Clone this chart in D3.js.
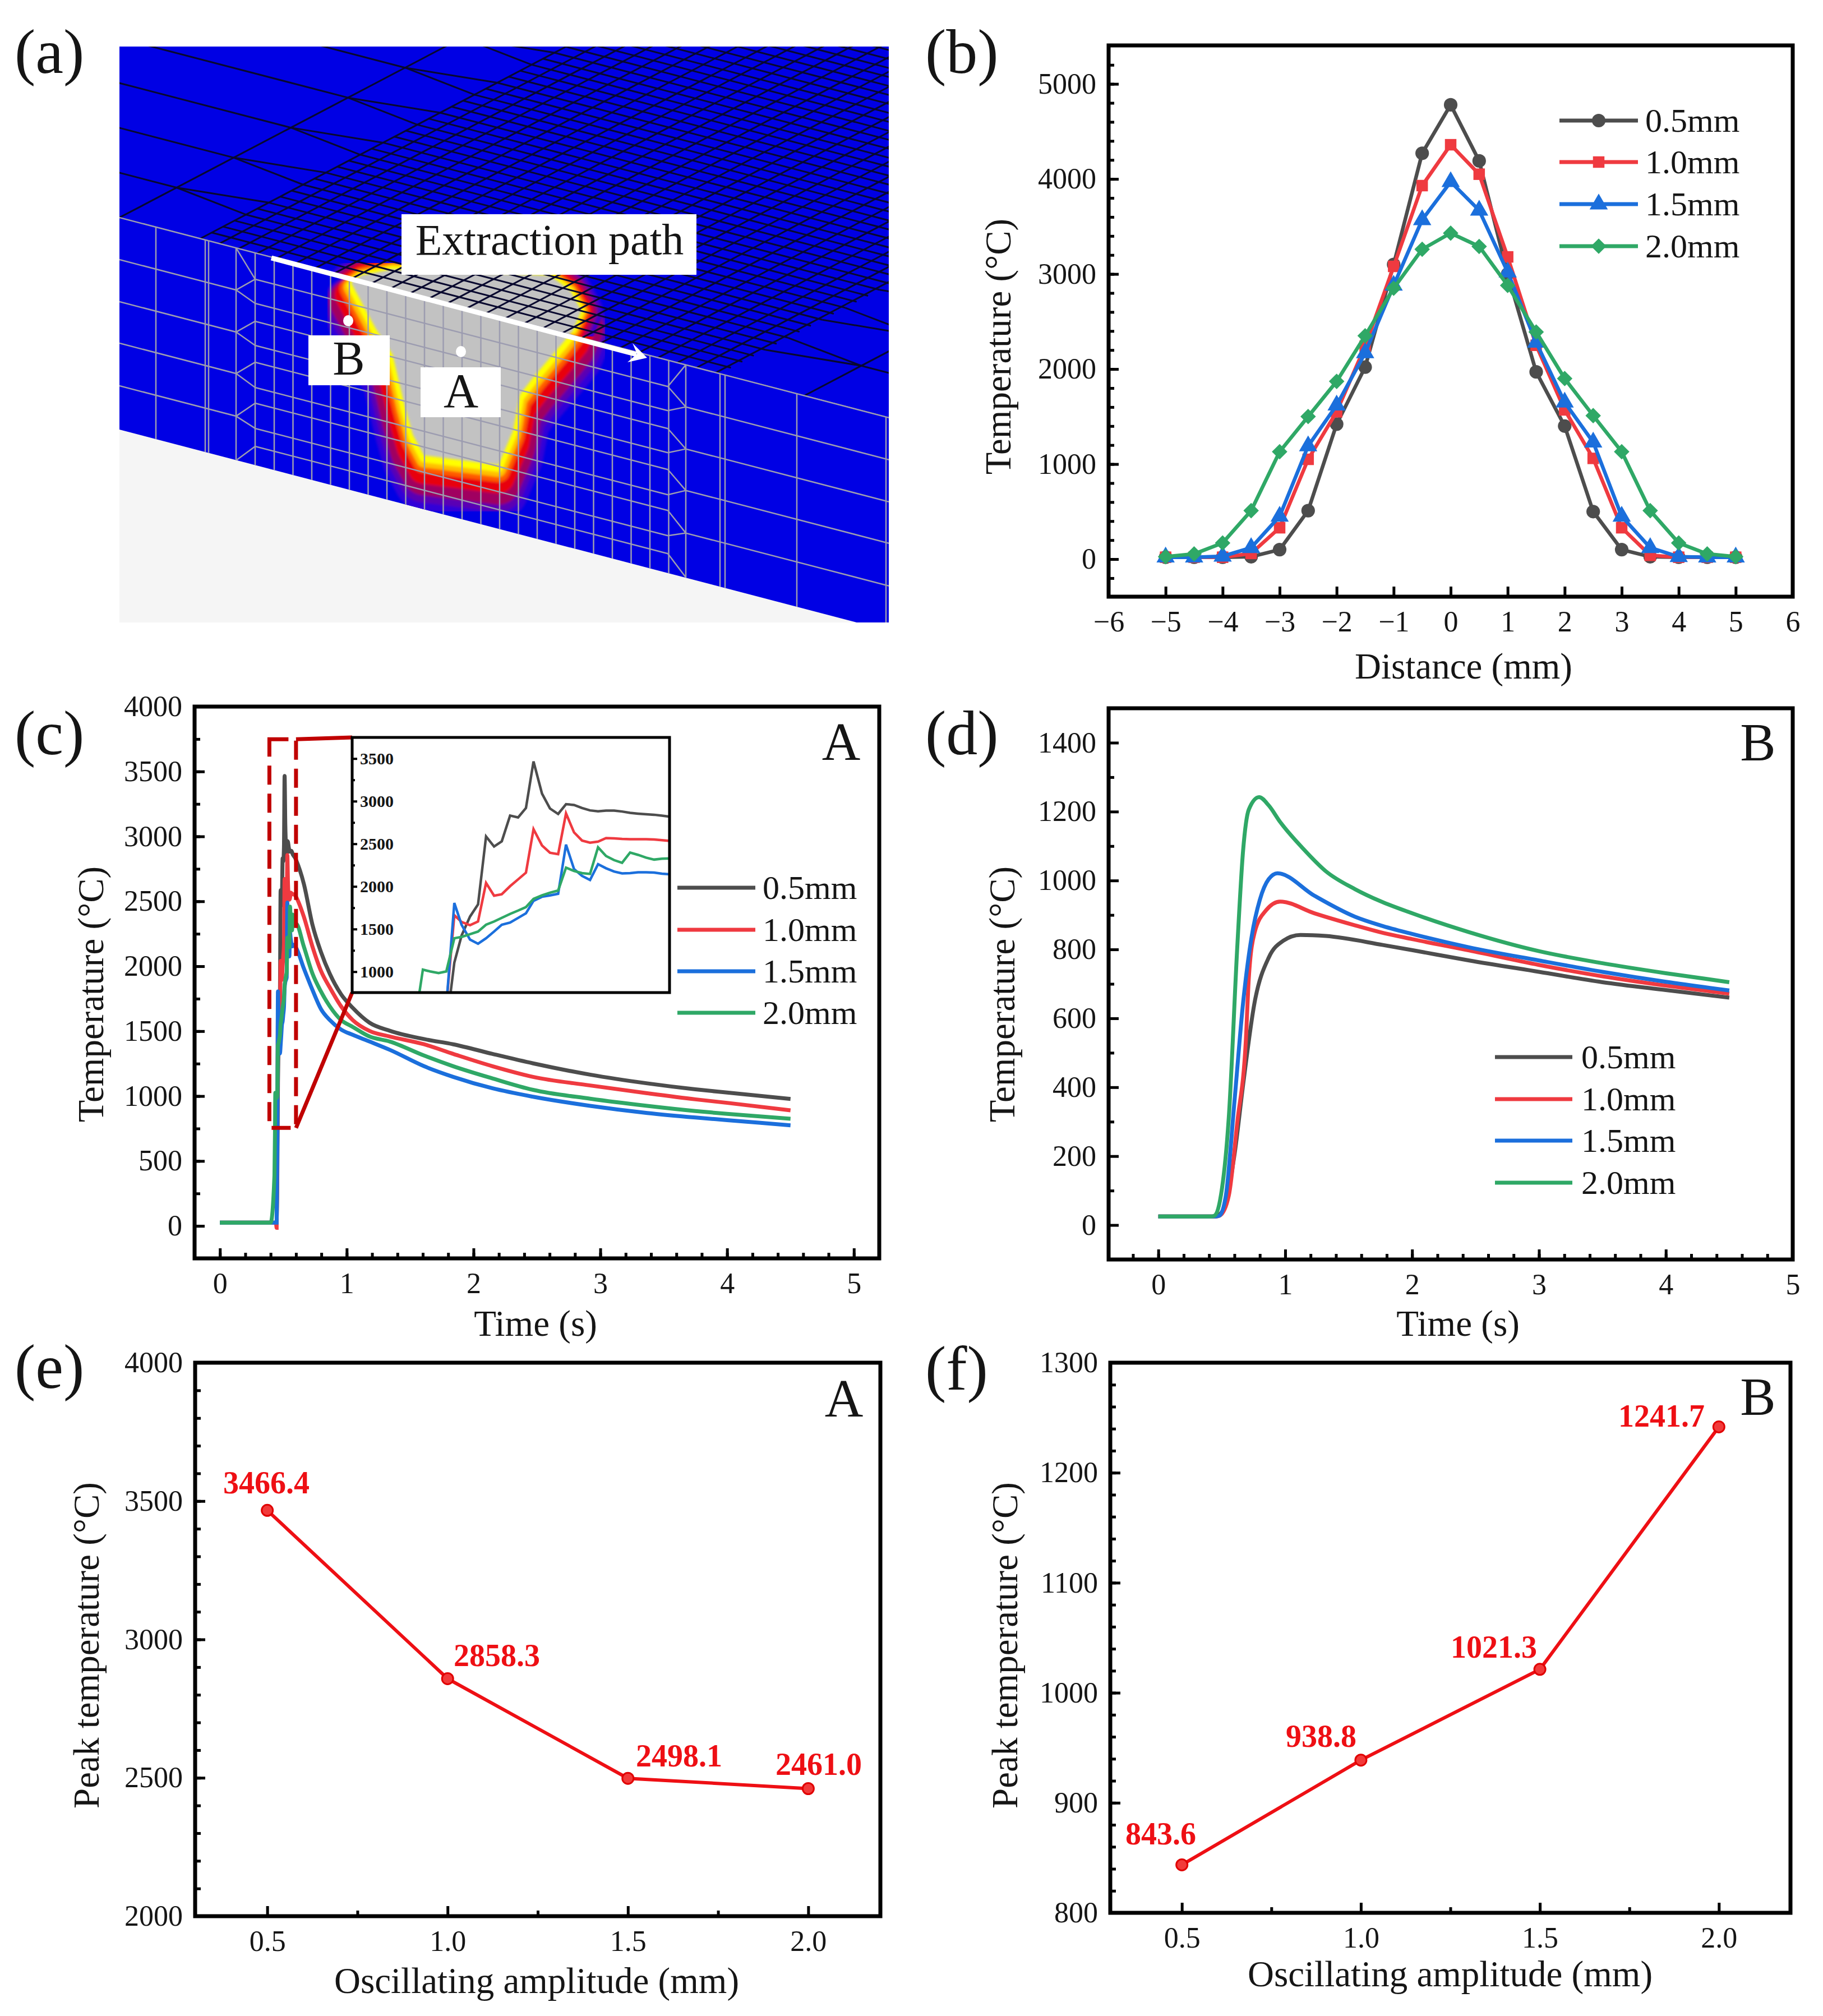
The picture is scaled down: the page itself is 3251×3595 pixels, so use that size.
<!DOCTYPE html>
<html>
<head>
<meta charset="utf-8">
<script src="https://cdn.jsdelivr.net/npm/d3@7/dist/d3.min.js"></script>
<style>
  body { margin: 0; background: #fff; }
  text { font-family: "Liberation Serif", serif; fill: #151515; }
</style>
</head>
<body>
<svg id="fig" width="3251" height="3595"></svg>
<script>
// series names and colours, shared by panels b, c, d
var seriesNames = ['0.5mm', '1.0mm', '1.5mm', '2.0mm'];
var seriesColors = ['#4d4d4d', '#ef3a40', '#1b6fdc', '#2fa866'];

// (b) temperature along the extraction path
var bDistance = [-5, -4.5, -4, -3.5, -3, -2.5, -2, -1.5, -1, -0.5, 0, 0.5, 1, 1.5, 2, 2.5, 3, 3.5, 4, 4.5, 5];
var b05 = [20, 20, 20, 25, 100, 510, 1420, 2020, 3100, 4270, 4780, 4190, 3000, 1970, 1400, 500, 100, 25, 20, 20, 20];
var b10 = [20, 20, 20, 60, 330, 1050, 1550, 2240, 3080, 3930, 4360, 4050, 3180, 2250, 1570, 1060, 330, 40, 20, 20, 20];
var b15 = [20, 20, 30, 120, 450, 1190, 1620, 2170, 2880, 3570, 3970, 3670, 3020, 2280, 1650, 1230, 450, 120, 25, 20, 20];
var b20 = [25, 55, 170, 510, 1130, 1500, 1870, 2350, 2850, 3260, 3430, 3290, 2880, 2390, 1900, 1510, 1130, 510, 170, 55, 25];

// (c) thermal cycle at point A
var cTime = [0, 0.2, 0.4, 0.43, 0.4345, 0.4368, 0.4415, 0.4472, 0.4523, 0.4576, 0.4624, 0.468, 0.4733, 0.4786, 0.4839, 0.489, 0.4945, 0.4998, 0.505, 0.51, 0.5156, 0.5209, 0.5263, 0.5315, 0.5368, 0.5421, 0.5474, 0.5527, 0.558, 0.5633, 0.5686, 0.5739, 0.5792, 0.5845, 0.5898, 0.595, 0.6, 0.662, 0.73, 0.797, 0.866, 0.955, 1.047, 1.18, 1.34, 1.61, 1.84, 2.15, 2.47, 2.92, 3.37, 3.75, 4, 4.5];
var c05 = [25, 25, 25, 25, 25, 25, 25, 30, 350, 1105, 1424, 1647, 1790, 2586, 2468, 2529, 2831, 2809, 2920, 3466, 3089, 2914, 2850, 2965, 2956, 2920, 2892, 2882, 2889, 2889, 2879, 2863, 2854, 2847, 2841, 2830, 2819, 2634, 2318, 2109, 1943, 1785, 1680, 1565, 1503, 1439, 1399, 1325, 1252, 1165, 1098, 1052, 1027, 978];
var c10 = [25, 25, 25, 25, 25, 25, 25, -15, 600, 1662, 1583, 1545, 1589, 2041, 1892, 1908, 2003, 2083, 2162, 2672, 2481, 2395, 2379, 2857, 2634, 2538, 2513, 2526, 2567, 2564, 2557, 2554, 2554, 2554, 2551, 2543, 2535, 2381, 2150, 1964, 1837, 1692, 1586, 1502, 1459, 1399, 1325, 1230, 1148, 1082, 1022, 975, 948, 890];
var c15 = [25, 25, 25, 25, 25, 25, 25, 25, 600, 1806, 1551, 1376, 1328, 1392, 1471, 1551, 1576, 1631, 1685, 1831, 1879, 1895, 1914, 2491, 2204, 2124, 2076, 2261, 2213, 2175, 2153, 2156, 2166, 2166, 2162, 2150, 2143, 1983, 1817, 1670, 1586, 1513, 1472, 1420, 1356, 1230, 1148, 1060, 995, 925, 870, 835, 815, 775];
var c20 = [25, 25, 25, 390, 755, 1025, 1003, 984, 1003, 1392, 1408, 1440, 1471, 1551, 1589, 1631, 1678, 1717, 1758, 1854, 1895, 1927, 1952, 2220, 2182, 2156, 2147, 2459, 2357, 2309, 2277, 2398, 2370, 2338, 2315, 2325, 2328, 2151, 1943, 1805, 1692, 1586, 1533, 1459, 1420, 1312, 1230, 1136, 1048, 980, 925, 885, 863, 825];

// (d) thermal cycle at point B
var d05Time = [0, 0.45, 0.51, 0.6, 0.668, 0.758, 0.871, 0.984, 1.12, 1.32, 1.77, 2, 2.45, 3, 3.5, 4, 4.5];
var d05 = [25, 25, 43, 204, 407, 645, 777, 825, 842, 839, 813, 798, 768, 735, 705, 682, 660];
var d10Time = [0, 0.46, 0.487, 0.555, 0.623, 0.69, 0.713, 0.758, 0.85, 0.96, 1.23, 1.55, 1.75, 2, 2.45, 3, 3.5, 4, 4.5];
var d10 = [25, 25, 28, 85, 300, 538, 717, 848, 914, 939, 905, 870, 850, 830, 797, 755, 722, 695, 672];
var d15Time = [0, 0.45, 0.48, 0.532, 0.6, 0.668, 0.735, 0.8, 0.87, 0.94, 1.23, 1.55, 1.75, 2, 2.45, 3, 3.5, 4, 4.5];
var d15 = [25, 25, 27, 85, 359, 645, 836, 944, 1004, 1021, 956, 895, 870, 845, 806, 768, 735, 706, 681];
var d20Time = [0, 0.42, 0.442, 0.487, 0.555, 0.623, 0.668, 0.713, 0.794, 0.87, 0.96, 1.14, 1.32, 1.55, 1.75, 2, 2.45, 3, 3.5, 4, 4.5];
var d20 = [25, 25, 27, 73, 311, 813, 1087, 1206, 1242, 1218, 1170, 1093, 1027, 975, 940, 905, 850, 795, 760, 731, 705];

// (e) (f) peak temperature
var amplitude = [0.5, 1.0, 1.5, 2.0];
var peakA = [3466.4, 2858.3, 2498.1, 2461.0];
var peakB = [843.6, 938.8, 1021.3, 1241.7];

var svg = d3.select('#fig');

function range2(a, b, s) { return d3.range(a, b + s / 2, s).map(function(d) { return +d.toFixed(3); }); }

// frame, major and minor ticks, returns the scales
function makePanel(c) {
  var x = d3.scaleLinear().domain(c.xd).range([c.l, c.r]);
  var y = d3.scaleLinear().domain(c.yd).range([c.b, c.t]);
  var g = svg.append('g');

  var under = g.append('g').attr('class', 'marks');

  g.append('g').attr('transform', 'translate(0,' + c.b + ')')
    .call(d3.axisBottom(x).tickValues(c.xMinor).tickSize(-10).tickFormat(''));
  g.append('g').attr('transform', 'translate(' + c.l + ',0)')
    .call(d3.axisLeft(y).tickValues(c.yMinor).tickSize(-10).tickFormat(''));
  g.append('g').attr('transform', 'translate(0,' + c.b + ')')
    .call(d3.axisBottom(x).tickValues(c.xMajor).tickSizeInner(-18).tickSizeOuter(0).tickPadding(c.xPad || 25).tickFormat(c.xFmt || d3.format('d')));
  g.append('g').attr('transform', 'translate(' + c.l + ',0)')
    .call(d3.axisLeft(y).tickValues(c.yMajor).tickSizeInner(-18).tickSizeOuter(0).tickPadding(22).tickFormat(d3.format('d')));

  g.selectAll('.domain').remove();
  g.selectAll('.tick line').attr('stroke', '#000').attr('stroke-width', 5);
  g.selectAll('.tick text').attr('font-size', 52).attr('font-family', '"Liberation Serif", serif').attr('fill', '#151515');

  g.append('rect').attr('x', c.l).attr('y', c.t).attr('width', c.r - c.l).attr('height', c.b - c.t)
    .attr('fill', 'none').attr('stroke', '#000').attr('stroke-width', 7);

  g.append('text').attr('x', c.xTitleX).attr('y', c.xTitleY).attr('text-anchor', 'middle').attr('font-size', 65).text(c.xTitle);
  g.append('text').attr('transform', 'translate(' + c.yTitleX + ',' + c.yTitleY + ') rotate(-90)')
    .attr('text-anchor', 'middle').attr('dy', '0.33em').attr('font-size', 65).text(c.yTitle);

  return { x: x, y: y, g: under, top: g };
}

function panelLabel(t, x, y) {
  svg.append('text').attr('x', x).attr('y', y).attr('font-size', 112).text(t);
}

function pointLabel(t, x, y) {
  svg.append('text').attr('x', x).attr('y', y).attr('font-size', 95).attr('text-anchor', 'middle').text(t);
}

function legend(names, lx0, lx1, ys, tx) {
  names.forEach(function(n, i) {
    svg.append('line').attr('x1', lx0).attr('x2', lx1).attr('y1', ys[i]).attr('y2', ys[i])
      .attr('stroke', seriesColors[i]).attr('stroke-width', 7);
    svg.append('text').attr('x', tx).attr('y', ys[i]).attr('dy', '0.33em').attr('font-size', 60).text(n);
  });
}

/* ---------- (a) mesh picture ---------- */
function drawMesh() {
  var g = svg.append('g');
  var defs = svg.append('defs');
  var edge = function(x) { return 388 + (x - 213) * 0.26; };
  var pa = function(u, v) { return [213 + 1372 * u + 566 * v, 388 + 357 * u - 297 * v]; };

  defs.append('clipPath').attr('id', 'aRect').append('rect').attr('x', 213).attr('y', 83).attr('width', 1372).attr('height', 1027);
  defs.append('clipPath').attr('id', 'aTop').append('polygon').attr('points', '213,83 1585,83 1585,745 213,388');
  defs.append('clipPath').attr('id', 'aFront').append('polygon').attr('points', '213,386 1585,743 1585,1125 213,766');
  defs.append('clipPath').attr('id', 'aSurf').append('polygon').attr('points', '213,83 1585,83 1585,1125 213,766');
  defs.append('filter').attr('id', 'soft').append('feGaussianBlur').attr('stdDeviation', 2);

  var a = g.append('g').attr('clip-path', 'url(#aRect)');
  a.append('rect').attr('x', 213).attr('y', 83).attr('width', 1372).attr('height', 1027).attr('fill', '#0000e4');
  a.append('polygon').attr('points', '213,766 1585,1125 1585,1200 213,1200').attr('fill', '#f5f5f5');

  // molten zone, outer colour bands first
  var outline = [[626,504],[670,586],[700,632],[721,721],[736,775],[756,812],[889,829],[915,768],[927,704],[955,668],[1004,611],[1022,589],[1037,554],[1017,518],[981,491],[700,480],[644,491]];
  var bands = [
    { w: 108, dy: 44, c: '#3000d8' }, { w: 92, dy: 38, c: '#5a00b4' }, { w: 78, dy: 32, c: '#a00060' },
    { w: 58, dy: 22, c: '#e80008' }, { w: 40, dy: 11, c: '#ff5a00' }, { w: 27, dy: 8, c: '#ffc000' }, { w: 15, dy: 5, c: '#ffff00' }
  ];
  var closed = d3.line().curve(d3.curveLinearClosed);
  var heat = a.append('g').attr('clip-path', 'url(#aSurf)').append('g').attr('filter', 'url(#soft)');
  bands.forEach(function(b) {
    heat.append('path').attr('d', closed(outline)).attr('transform', 'translate(0,' + b.dy + ')')
      .attr('fill', b.c).attr('stroke', b.c).attr('stroke-width', b.w).attr('stroke-linejoin', 'round');
  });
  // the same bands again on the top face, not pushed down
  var heatTop = a.append('g').attr('clip-path', 'url(#aTop)').append('g').attr('filter', 'url(#soft)');
  bands.forEach(function(b) {
    heatTop.append('path').attr('d', closed(outline.slice(11).concat(outline.slice(0, 1)))).attr('fill', b.c).attr('stroke', b.c).attr('stroke-width', b.w * 0.7).attr('stroke-linejoin', 'round');
  });
  a.append('path').attr('d', closed(outline)).attr('fill', '#c2c2c2').attr('filter', 'url(#soft)');

  // top face mesh
  var top = a.append('g').attr('clip-path', 'url(#aTop)').attr('fill', 'none').attr('stroke', '#08082e').attr('stroke-width', 3);
  var line = d3.line();
  var uL = 0.105, uR = 0.78, dv = 0.036;
  range2(uL, uR, 0.0248).forEach(function(u) { top.append('path').attr('d', line([pa(u, 0), pa(u, 1.8)])); });
  range2(dv, 1.8, dv).forEach(function(v) { top.append('path').attr('d', line([pa(uL, v), pa(uR, v)])); });
  [0, 0.89, 1.02].forEach(function(u) { top.append('path').attr('d', line([pa(u, 0), pa(u, 1.8)])); });
  range2(0.18, 1.8, 0.18).forEach(function(v) {
    top.append('path').attr('d', line([pa(-0.4, v), pa(0, v), pa(uL, v - dv)]));
    top.append('path').attr('d', line([pa(0, v), pa(uL, v + dv)]));
    top.append('path').attr('d', line([pa(1.4, v), pa(0.89, v), pa(uR, v - dv)]));
    top.append('path').attr('d', line([pa(0.89, v), pa(uR, v + dv)]));
  });

  // front face mesh
  var front = a.append('g').attr('clip-path', 'url(#aFront)').attr('fill', 'none').attr('stroke', '#9c9cb0').attr('stroke-width', 2.5);
  var columns = [278, 366, 372, 421, 455].concat(range2(489, 1191, 33.5), [1223, 1284, 1293, 1421, 1580]);
  columns.forEach(function(x) { front.append('path').attr('d', line([[x, edge(x)], [x, edge(x) + 385]])); });
  front.append('path').attr('d', line([[213, edge(213)], [1585, edge(1585)]]));
  var fineRows = [47, 90, 122, 165, 195, 240, 268, 313, 345];
  fineRows.forEach(function(o) {
    front.append('path').attr('d', line([[455, edge(455) + o], [1191, edge(1191) + o]]));
  });
  [[75, 47, 90], [150, 122, 165], [224, 195, 240], [300, 268, 313]].forEach(function(r) {
    front.append('path').attr('d', line([[213, edge(213) + r[0]], [421, edge(421) + r[0]], [455, edge(455) + r[1]]]));
    front.append('path').attr('d', line([[421, edge(421) + r[0]], [455, edge(455) + r[2]]]));
    front.append('path').attr('d', line([[1585, edge(1585) + r[0]], [1223, edge(1223) + r[0]], [1191, edge(1191) + r[1]]]));
    front.append('path').attr('d', line([[1223, edge(1223) + r[0]], [1191, edge(1191) + r[2]]]));
  });
  [[421, 0, 47], [421, 379, 345], [1223, 0, 47], [1223, 379, 345]].forEach(function(r) {
    var x2 = r[0] === 421 ? 455 : 1191;
    front.append('path').attr('d', line([[r[0], edge(r[0]) + r[1]], [x2, edge(x2) + r[2]]]));
  });

  // extraction path arrow
  g.append('line').attr('x1', 484).attr('y1', 460).attr('x2', 1135).attr('y2', 632).attr('stroke', '#fff').attr('stroke-width', 9);
  g.append('polygon').attr('points', '1154,638 1128,612 1136,631 1119,646').attr('fill', '#fff');

  // labels on white boxes
  var boxes = [
    { x: 716, y: 382, w: 526, h: 108, t: 'Extraction path', tx: 980, ty: 454, fs: 78 },
    { x: 550, y: 598, w: 145, h: 89, t: 'B', tx: 622, ty: 668, fs: 86 },
    { x: 750, y: 655, w: 143, h: 89, t: 'A', tx: 822, ty: 726, fs: 86 }
  ];
  boxes.forEach(function(b) {
    g.append('rect').attr('x', b.x).attr('y', b.y).attr('width', b.w).attr('height', b.h).attr('fill', '#fff');
    g.append('text').attr('x', b.tx).attr('y', b.ty).attr('text-anchor', 'middle').attr('font-size', b.fs).text(b.t);
  });
  g.append('ellipse').attr('cx', 621).attr('cy', 572).attr('rx', 9).attr('ry', 10).attr('fill', '#fff');
  g.append('ellipse').attr('cx', 822).attr('cy', 627).attr('rx', 9).attr('ry', 10).attr('fill', '#fff');
}
drawMesh();

/* ---------- (b) ---------- */
var pb = makePanel({
  l: 1977, r: 3197, t: 81, b: 1064, xd: [-6, 6], yd: [-395, 5405],
  xMajor: range2(-6, 6, 1), xMinor: [],
  yMajor: range2(0, 5000, 1000), yMinor: range2(-200, 5200, 200),
  xTitle: 'Distance (mm)', xTitleX: 2610, xTitleY: 1210, yTitle: 'Temperature (°C)', yTitleX: 1781, yTitleY: 618
});
var bSeries = [b05, b10, b15, b20];
var bSymbols = [
  { type: d3.symbolCircle, size: 460, rot: 0 },
  { type: d3.symbolSquare, size: 420, rot: 0 },
  { type: d3.symbolTriangle, size: 460, rot: 0 },
  { type: d3.symbolSquare, size: 380, rot: 45 }
];
bSeries.forEach(function(vals, i) {
  var pts = bDistance.map(function(d, k) { return [pb.x(d), pb.y(vals[k])]; });
  pb.g.append('path').attr('d', d3.line()(pts)).attr('fill', 'none').attr('stroke', seriesColors[i]).attr('stroke-width', 6.5);
  pb.g.selectAll(null).data(pts).enter().append('path')
    .attr('d', d3.symbol().type(bSymbols[i].type).size(bSymbols[i].size))
    .attr('transform', function(p) { return 'translate(' + p[0] + ',' + p[1] + ') rotate(' + bSymbols[i].rot + ')'; })
    .attr('fill', seriesColors[i]);
});
var bLegY = [215, 289, 364, 439];
legend(seriesNames, 2781, 2921, bLegY, 2934);
seriesNames.forEach(function(n, i) {
  svg.append('path').attr('d', d3.symbol().type(bSymbols[i].type).size(bSymbols[i].size))
    .attr('transform', 'translate(2851,' + bLegY[i] + ') rotate(' + bSymbols[i].rot + ')').attr('fill', seriesColors[i]);
});

/* ---------- (c) ---------- */
var timeMinor = range2(-0.2, 5.2, 0.2);
var pc = makePanel({
  l: 347, r: 1568, t: 1260, b: 2244, xd: [-0.2, 5.2], yd: [-250, 4000],
  xMajor: range2(0, 5, 1), xMinor: timeMinor,
  yMajor: range2(0, 4000, 500), yMinor: range2(-250, 3750, 250),
  xTitle: 'Time (s)', xTitleX: 955, xTitleY: 2382, yTitle: 'Temperature (°C)', yTitleX: 163, yTitleY: 1773
});
var cSeries = [c05, c10, c15, c20];
cSeries.forEach(function(vals, i) {
  var ln = d3.line().curve(d3.curveMonotoneX).x(function(d, k) { return pc.x(cTime[k]); }).y(function(d) { return pc.y(d); });
  pc.g.append('path').attr('d', ln(vals)).attr('fill', 'none').attr('stroke', seriesColors[i]).attr('stroke-width', 7);
});

// zoomed window and the inset it opens into
var zoomT = [0.39, 0.6], zoomV = [755, 3748];
var inset = { l: 628, r: 1194, t: 1315, b: 1770 };
var zr = '#c00000';
svg.append('rect').attr('x', pc.x(zoomT[0])).attr('y', pc.y(zoomV[1])).attr('width', pc.x(zoomT[1]) - pc.x(zoomT[0])).attr('height', pc.y(zoomV[0]) - pc.y(zoomV[1]))
  .attr('fill', 'none').attr('stroke', zr).attr('stroke-width', 7).attr('stroke-dasharray', '34,16');
svg.append('line').attr('x1', pc.x(zoomT[1])).attr('y1', pc.y(zoomV[1])).attr('x2', inset.l).attr('y2', inset.t).attr('stroke', zr).attr('stroke-width', 7);
svg.append('line').attr('x1', pc.x(zoomT[1])).attr('y1', pc.y(zoomV[0])).attr('x2', inset.l).attr('y2', inset.b).attr('stroke', zr).attr('stroke-width', 7);

var ix = d3.scaleLinear().domain(zoomT).range([inset.l, inset.r]);
var iy = d3.scaleLinear().domain(zoomV).range([inset.b, inset.t]);
var ig = svg.append('g');
ig.append('rect').attr('x', inset.l).attr('y', inset.t).attr('width', inset.r - inset.l).attr('height', inset.b - inset.t).attr('fill', '#fff');
svg.append('clipPath').attr('id', 'insetClip').append('rect').attr('x', inset.l).attr('y', inset.t).attr('width', inset.r - inset.l).attr('height', inset.b - inset.t);
var ic = ig.append('g').attr('clip-path', 'url(#insetClip)');
cSeries.forEach(function(vals, i) {
  var ln = d3.line().x(function(d, k) { return ix(cTime[k]); }).y(function(d) { return iy(d); });
  ic.append('path').attr('d', ln(vals)).attr('fill', 'none').attr('stroke', seriesColors[i]).attr('stroke-width', 4.5);
});
var iAxis = ig.append('g').attr('transform', 'translate(' + inset.l + ',0)')
  .call(d3.axisRight(iy).tickValues(range2(1000, 3500, 500)).tickSizeInner(9).tickSizeOuter(0).tickPadding(5).tickFormat(d3.format('d')));
var iMinor = ig.append('g').attr('transform', 'translate(' + inset.l + ',0)')
  .call(d3.axisRight(iy).tickValues(range2(1250, 3250, 500)).tickSize(5).tickFormat(''));
ig.selectAll('.domain').remove();
ig.selectAll('.tick line').attr('stroke', '#000').attr('stroke-width', 4);
iAxis.selectAll('text').attr('font-size', 30).attr('font-weight', 'bold').attr('font-family', '"Liberation Serif", serif').attr('fill', '#151515');
ig.append('rect').attr('x', inset.l).attr('y', inset.t).attr('width', inset.r - inset.l).attr('height', inset.b - inset.t)
  .attr('fill', 'none').attr('stroke', '#000').attr('stroke-width', 5);

legend(seriesNames, 1208, 1347, [1583, 1658, 1732, 1806], 1360);
pointLabel('A', 1500, 1355);

/* ---------- (d) ---------- */
var pd = makePanel({
  l: 1977, r: 3197, t: 1263, b: 2246, xd: [-0.392, 5], yd: [-100, 1500],
  xMajor: range2(0, 5, 1), xMinor: range2(-0.2, 5, 0.2),
  yMajor: range2(0, 1400, 200), yMinor: range2(-100, 1500, 200),
  xTitle: 'Time (s)', xTitleX: 2600, xTitleY: 2382, yTitle: 'Temperature (°C)', yTitleX: 1788, yTitleY: 1773
});
[[d05Time, d05], [d10Time, d10], [d15Time, d15], [d20Time, d20]].forEach(function(s, i) {
  var ln = d3.line().curve(d3.curveMonotoneX).x(function(d, k) { return pd.x(s[0][k]); }).y(function(d) { return pd.y(d); });
  pd.g.append('path').attr('d', ln(s[1])).attr('fill', 'none').attr('stroke', seriesColors[i]).attr('stroke-width', 7);
});
legend(seriesNames, 2666, 2804, [1885, 1960, 2034, 2109], 2820);
pointLabel('B', 3135, 1356);

/* ---------- (e) (f) ---------- */
function peakPanel(c, vals, labels) {
  var p = makePanel(c);
  var pts = amplitude.map(function(a, k) { return [p.x(a), p.y(vals[k])]; });
  p.g.append('path').attr('d', d3.line()(pts)).attr('fill', 'none').attr('stroke', '#ee0f14').attr('stroke-width', 6);
  p.g.selectAll(null).data(pts).enter().append('circle').attr('cx', function(d) { return d[0]; }).attr('cy', function(d) { return d[1]; })
    .attr('r', 10).attr('fill', '#f23a3a').attr('stroke', '#e00000').attr('stroke-width', 3);
  vals.forEach(function(v, k) {
    svg.append('text').attr('x', labels[k][0]).attr('y', labels[k][1]).attr('dy', '0.33em').attr('font-size', 56)
      .attr('font-weight', 'bold').style('fill', '#ee0f14').text(v.toFixed(1));
  });
}
var ampMajor = [0.5, 1.0, 1.5, 2.0], ampMinor = [0.75, 1.25, 1.75];
peakPanel({
  l: 348, r: 1570, t: 2430, b: 3417, xd: [0.3, 2.2], yd: [2000, 4000], xFmt: d3.format('.1f'),
  xMajor: ampMajor, xMinor: ampMinor, yMajor: range2(2000, 4000, 500), yMinor: range2(2100, 3900, 100),
  xTitle: 'Oscillating amplitude (mm)', xTitleX: 957, xTitleY: 3554, yTitle: 'Peak temperature (°C)', yTitleX: 155, yTitleY: 2934
}, peakA, [[398, 2645], [809, 2953], [1134, 3132], [1383, 3147]]);
peakPanel({
  l: 1980, r: 3193, t: 2430, b: 3411, xd: [0.3, 2.2], yd: [800, 1300], xFmt: d3.format('.1f'),
  xMajor: ampMajor, xMinor: ampMinor, yMajor: range2(800, 1300, 100), yMinor: range2(820, 1280, 20),
  xTitle: 'Oscillating amplitude (mm)', xTitleX: 2586, xTitleY: 3542, yTitle: 'Peak temperature (°C)', yTitleX: 1793, yTitleY: 2934
}, peakB, [[2007, 3271], [2293, 3097], [2587, 2938], [2886, 2526]]);
pointLabel('A', 1505, 2526);
pointLabel('B', 3135, 2523);

panelLabel('(a)', 26, 130);
panelLabel('(b)', 1650, 130);
panelLabel('(c)', 26, 1345);
panelLabel('(d)', 1650, 1345);
panelLabel('(e)', 26, 2475);
panelLabel('(f)', 1650, 2478);
</script>
</body>
</html>
